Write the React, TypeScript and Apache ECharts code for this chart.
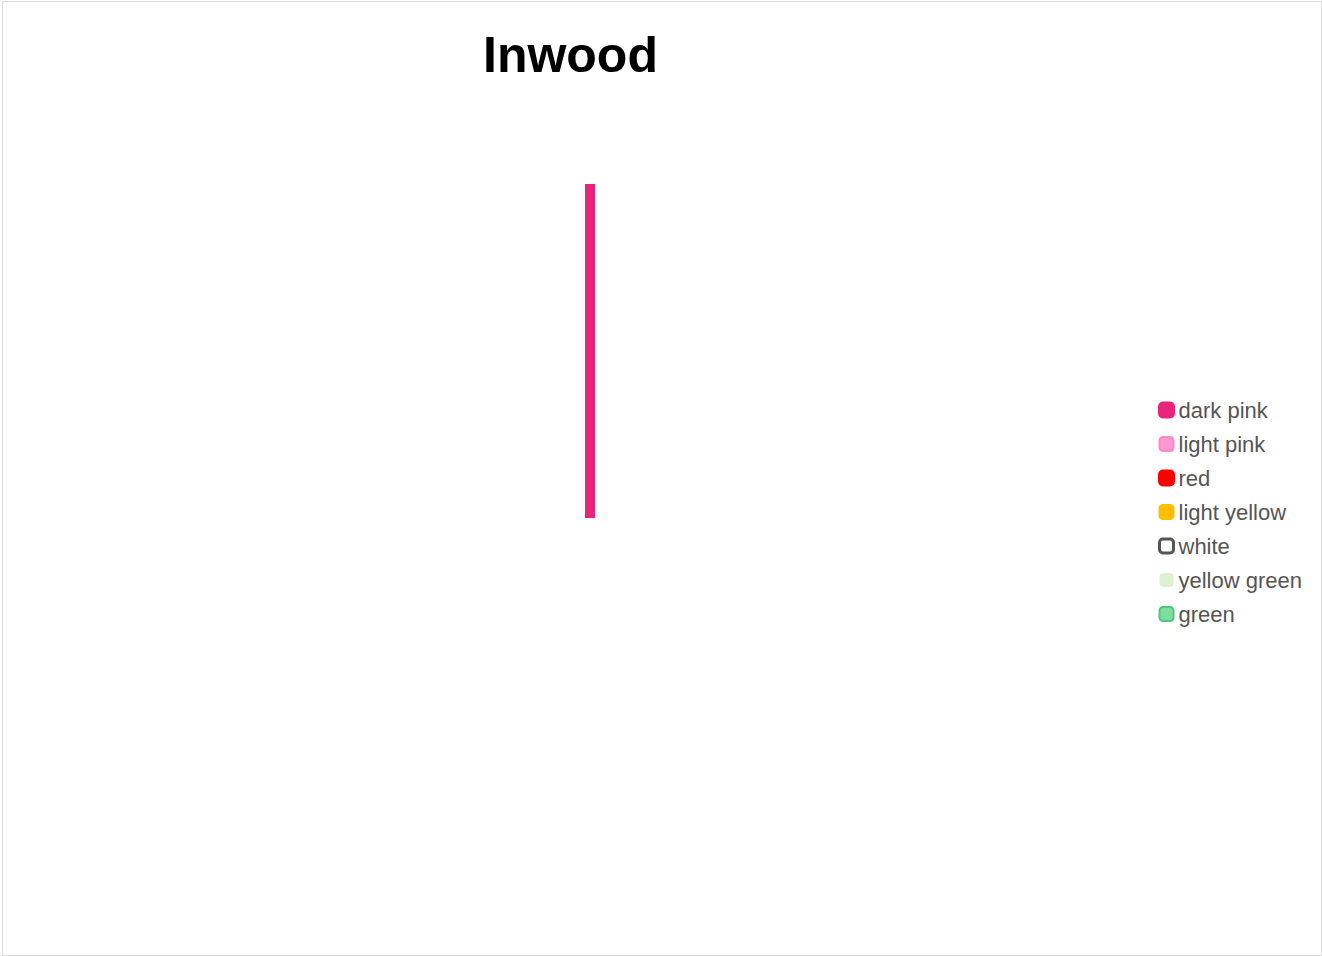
import React, { useEffect, useRef } from "react";
import * as echarts from "echarts";

const categories = ["Inwood"];
const seriesNames = ["dark pink", "light pink", "red", "light yellow", "white", "yellow green", "green"];
const seriesValues = [[1], [0], [0], [0], [0], [0], [0]];
const fillColors = ["#e8247c", "#ff99d4", "#ff0000", "#ffbf00", "#ffffff", "#dff0d0", "#7fdca0"];
const borderColors = ["#e8247c", "#ff88cc", "#ff0000", "#ffbf00", "#555555", "#dff0d0", "#4cc97c"];
const borderWidths = [3, 2, 3, 2, 3, 0, 2];

export default function App() {
  const ref = useRef<HTMLDivElement>(null);
  useEffect(() => {
    document.body.style.margin = "0";
    const chart = echarts.init(ref.current!, null, { renderer: "svg" });
    chart.setOption({
      animation: false,
      title: {
        text: "Inwood",
        left: 478,
        top: 25,
        textStyle: { fontSize: 50, fontWeight: "bold", color: "#000", fontFamily: "Liberation Sans" },
      },
      legend: {
        orient: "vertical",
        left: 1153,
        top: 394,
        itemWidth: 14,
        itemHeight: 14,
        itemGap: 12,
        icon: "roundRect",
        textStyle: { fontSize: 22, color: "#555", fontFamily: "Liberation Sans" },
        data: seriesNames.map((n, i) => ({
          name: n,
          itemStyle: { color: fillColors[i], borderColor: borderColors[i], borderWidth: borderWidths[i] },
        })),
      },
      grid: { left: 540, width: 100, top: 184, bottom: 438 },
      xAxis: { type: "category", data: categories, show: false },
      yAxis: { type: "value", min: 0, max: 1, show: false },
      series: seriesNames.map((n, i) => ({
        name: n,
        type: "bar",
        stack: "total",
        barWidth: 10,
        data: seriesValues[i],
        itemStyle: { color: borderColors[i] },
      })),
    });
    return () => chart.dispose();
  }, []);
  return (
    <div style={{ position: "relative", width: 1322, height: 956 }}>
      <div ref={ref} style={{ position: "absolute", left: 0, top: 0, width: 1322, height: 956 }} />
      <div
        style={{
          position: "absolute",
          left: 2,
          top: 1,
          width: 1320,
          height: 955,
          boxSizing: "border-box",
          border: "1px solid #dcdcdc",
          pointerEvents: "none",
        }}
      />
    </div>
  );
}
